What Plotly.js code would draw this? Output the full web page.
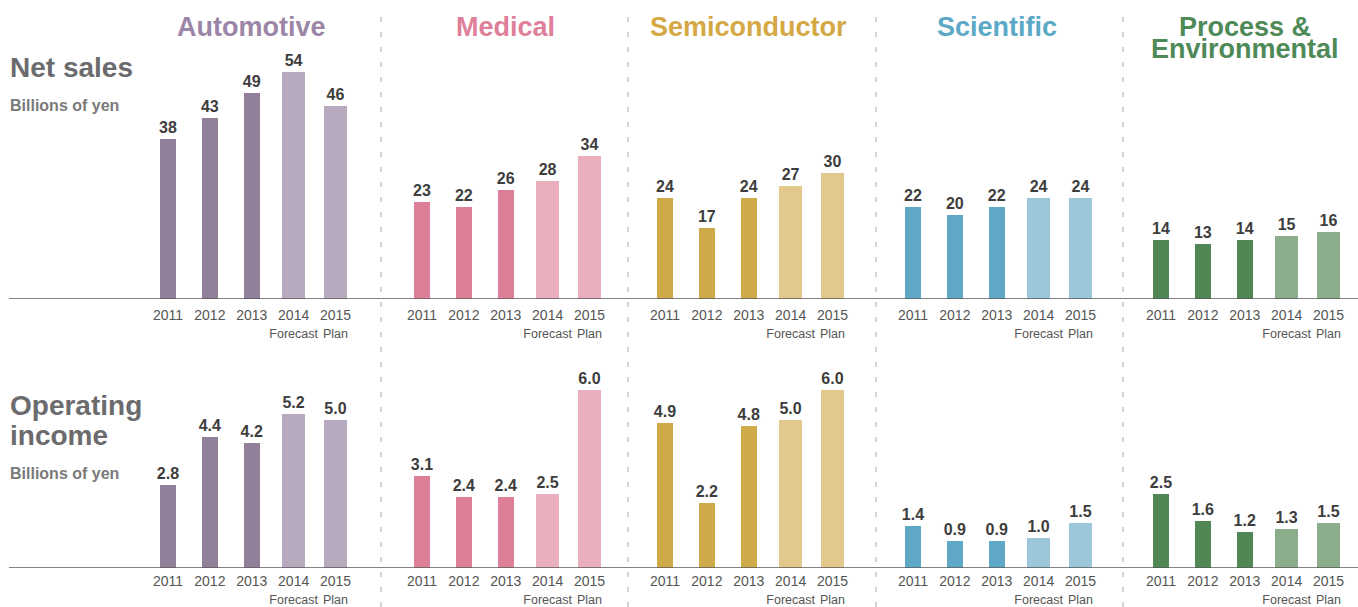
<!DOCTYPE html>
<html>
<head>
<meta charset="utf-8">
<script src="https://cdn.plot.ly/plotly-3.0.1.min.js"></script>
<style>
  html, body { margin: 0; padding: 0; background: #fff; }
  #chart { width: 1358px; height: 607px; }
</style>
</head>
<body>
<div id="chart"></div>
<script>
// ---- data ----
const segments = ['Automotive', 'Medical', 'Semiconductor', 'Scientific', 'Process &<br>Environmental'];
const years = ['2011', '2012', '2013', '2014', '2015'];
const yearNotes = ['', '', '', 'Forecast', 'Plan'];
const netSalesAutomotive = [38, 43, 49, 54, 46];
const netSalesMedical = [23, 22, 26, 28, 34];
const netSalesSemiconductor = [24, 17, 24, 27, 30];
const netSalesScientific = [22, 20, 22, 24, 24];
const netSalesProcess = [14, 13, 14, 15, 16];
const opIncomeAutomotive = [2.8, 4.4, 4.2, 5.2, 5.0];
const opIncomeMedical = [3.1, 2.4, 2.4, 2.5, 6.0];
const opIncomeSemiconductor = [4.9, 2.2, 4.8, 5.0, 6.0];
const opIncomeScientific = [1.4, 0.9, 0.9, 1.0, 1.5];
const opIncomeProcess = [2.5, 1.6, 1.2, 1.3, 1.5];
const rowLabels = ['Net sales', 'Operating', 'income'];
const unitLabel = 'Billions of yen';

// ---- styling ----
const W = 1358, H = 607;
const netSales = [netSalesAutomotive, netSalesMedical, netSalesSemiconductor, netSalesScientific, netSalesProcess];
const opIncome = [opIncomeAutomotive, opIncomeMedical, opIncomeSemiconductor, opIncomeScientific, opIncomeProcess];
const titleColors = ['#9b86a8', '#e07f9a', '#d4a945', '#5ba9c7', '#4e8a58'];
const darkColors  = ['#927f99', '#de7f98', '#cfaa49', '#5fa8c5', '#518655'];
const lightColors = ['#b7a9be', '#eaafbc', '#e2c88c', '#9cc7da', '#8cad8b'];
const segStartPx = [147.06, 401.06, 644.06, 892.06, 1140.06];
const segWidthPx = 209.4;
const dividerPx = [381, 628, 876, 1123];
const FONT = '"Liberation Sans", Arial, Helvetica, sans-serif';

const barWidths = years.map((y, i) => yearNotes[i] ? 0.549 : 0.382);
const tickText = years.map((y, i) => yearNotes[i]
  ? y + '<br><span style="font-size:12.5px">' + yearNotes[i] + '</span>'
  : y);

const traces = [];
const layout = {
  width: W, height: H,
  margin: {l: 0, r: 0, t: 0, b: 0},
  paper_bgcolor: '#ffffff', plot_bgcolor: 'rgba(0,0,0,0)',
  showlegend: false,
  font: {family: FONT},
  bargap: 0,
  annotations: [], shapes: []
};

const rows = [
  {data: netSales, yname: 'yaxis', yref: 'y', fmt: '%{y:.0f}', base: 299, top: 40, scale: 4.2, standoff: 6},
  {data: opIncome, yname: 'yaxis2', yref: 'y2', fmt: '%{y:.1f}', base: 568, top: 360, scale: 29.67, standoff: 3}
];

rows.forEach((row, r) => {
  layout[row.yname] = {
    domain: [(H - row.base) / H, (H - row.top) / H],
    range: [0, (row.base - row.top) / row.scale],
    visible: false, fixedrange: true
  };
  row.data.forEach((vals, s) => {
    const idx = r * 5 + s + 1;
    const xname = idx === 1 ? 'xaxis' : 'xaxis' + idx;
    const xref = idx === 1 ? 'x' : 'x' + idx;
    layout[xname] = {
      type: 'category',
      domain: [segStartPx[s] / W, (segStartPx[s] + segWidthPx) / W],
      range: [-0.5, 4.5],
      anchor: row.yref,
      showline: false, showgrid: false, zeroline: false,
      ticks: '', tickangle: 0, tickvals: years, ticktext: tickText,
      ticklabelstandoff: row.standoff,
      tickfont: {family: FONT, size: 14, color: '#555555'},
      fixedrange: true
    };
    traces.push({
      type: 'bar',
      x: years, y: vals,
      xaxis: xref, yaxis: row.yref,
      width: barWidths,
      marker: {color: years.map((y, i) => yearNotes[i] ? lightColors[s] : darkColors[s])},
      texttemplate: row.fmt,
      textposition: 'outside',
      constraintext: 'none',
      cliponaxis: false,
      textfont: {family: FONT, size: 16, color: '#3d3d3d', weight: 'bold'},
      hoverinfo: 'skip'
    });
  });
  // baseline
  layout.shapes.push({
    type: 'line', xref: 'paper', yref: row.yref,
    x0: 9 / W, x1: 1, y0: 0, y1: 0,
    line: {color: '#5a5a5a', width: 1.5}, layer: 'above'
  });
});

// dashed dividers
dividerPx.forEach(px => {
  layout.shapes.push({
    type: 'line', xref: 'paper', yref: 'paper',
    x0: px / W, x1: px / W, y0: 0, y1: (H - 12) / H,
    line: {color: '#a8a8a8', width: 1, dash: '5px,10px'}, layer: 'below'
  });
});

// segment titles
segments.forEach((name, s) => {
  const cx = (segStartPx[s] + segWidthPx / 2) / W;
  const lines = name.split('<br>');
  lines.forEach((ln, k) => {
    layout.annotations.push({
      text: '<b>' + ln + '</b>', showarrow: false,
      xref: 'paper', yref: 'paper', x: cx, xanchor: 'center',
      y: (H - (lines.length > 1 ? 27 + k * 22 : 27)) / H, yanchor: 'middle',
      font: {family: FONT, size: 27, color: titleColors[s]}
    });
  });
});

// row labels
const leftLabels = [
  {t: rowLabels[0], y: 68, size: 28, color: '#6b6b6e'},
  {t: unitLabel, y: 105, size: 16, color: '#7a7a7a'},
  {t: rowLabels[1], y: 405, size: 28, color: '#6b6b6e'},
  {t: rowLabels[2], y: 436, size: 28, color: '#6b6b6e'},
  {t: unitLabel, y: 473, size: 16, color: '#7a7a7a'}
];
leftLabels.forEach(l => {
  layout.annotations.push({
    text: '<b>' + l.t + '</b>', showarrow: false,
    xref: 'paper', yref: 'paper', x: 8 / W, xanchor: 'left',
    y: (H - l.y) / H, yanchor: 'middle',
    font: {family: FONT, size: l.size, color: l.color}
  });
});

Plotly.newPlot('chart', traces, layout, {displayModeBar: false, staticPlot: true});
</script>
</body>
</html>
